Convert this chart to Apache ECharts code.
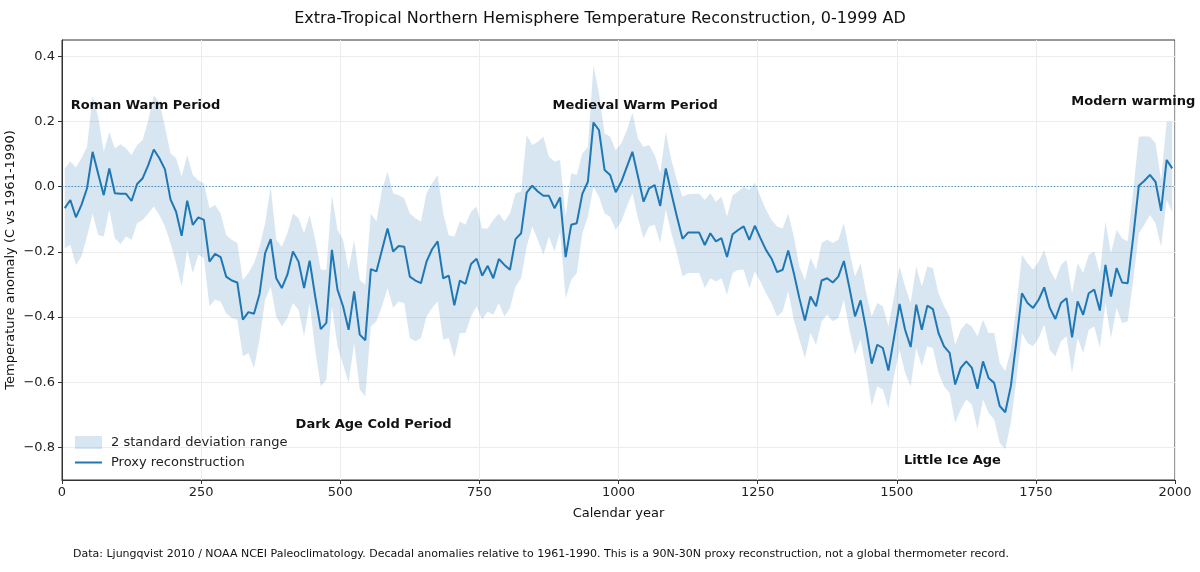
<!DOCTYPE html>
<html>
<head>
<meta charset="utf-8">
<title>Extra-Tropical NH Temperature Reconstruction</title>
<script src="https://cdn.jsdelivr.net/npm/echarts@6/dist/echarts.min.js"></script>
<style>
  html, body { margin: 0; padding: 0; background: #fff; }
  #chart { width: 1200px; height: 572px; }
</style>
</head>
<body>
<div id="chart"></div>
<script>
// decade midpoints, 5 .. 1995 AD
var years = [];
for (var y = 5; y < 2000; y += 10) years.push(y);

// proxy reconstruction (C vs 1961-1990)
var proxy = [
    -0.066, -0.041, -0.094, -0.056, -0.005, 0.107, 0.040, -0.026, 0.056, -0.020,
    -0.022, -0.022, -0.044, 0.008, 0.026, 0.066, 0.114, 0.087, 0.053, -0.039,
    -0.077, -0.151, -0.043, -0.117, -0.094, -0.102, -0.230, -0.206, -0.216, -0.276,
    -0.288, -0.294, -0.408, -0.385, -0.390, -0.329, -0.204, -0.161, -0.281, -0.311,
    -0.270, -0.199, -0.230, -0.311, -0.227, -0.337, -0.437, -0.418, -0.194, -0.316,
    -0.367, -0.439, -0.321, -0.454, -0.471, -0.253, -0.260, -0.194, -0.128, -0.199,
    -0.182, -0.184, -0.276, -0.288, -0.296, -0.230, -0.192, -0.168, -0.281, -0.273,
    -0.364, -0.288, -0.298, -0.237, -0.221, -0.273, -0.243, -0.281, -0.222, -0.240,
    -0.255, -0.161, -0.143, -0.018, 0.003, -0.015, -0.028, -0.028, -0.066, -0.033,
    -0.216, -0.117, -0.112, -0.022, 0.015, 0.197, 0.173, 0.051, 0.036, -0.017,
    0.015, 0.061, 0.107, 0.031, -0.046, -0.005, 0.005, -0.059, 0.056, -0.020,
    -0.092, -0.160, -0.141, -0.141, -0.141, -0.179, -0.143, -0.168, -0.158, -0.216,
    -0.146, -0.133, -0.122, -0.163, -0.120, -0.158, -0.194, -0.221, -0.262, -0.255,
    -0.196, -0.265, -0.342, -0.411, -0.337, -0.367, -0.288, -0.281, -0.294, -0.276,
    -0.228, -0.311, -0.398, -0.349, -0.439, -0.543, -0.485, -0.495, -0.564, -0.464,
    -0.360, -0.439, -0.492, -0.362, -0.439, -0.365, -0.376, -0.449, -0.490, -0.510,
    -0.607, -0.556, -0.536, -0.556, -0.620, -0.536, -0.587, -0.602, -0.673, -0.692,
    -0.612, -0.474, -0.327, -0.357, -0.372, -0.347, -0.309, -0.372, -0.406, -0.357,
    -0.342, -0.462, -0.352, -0.393, -0.327, -0.316, -0.380, -0.240, -0.337, -0.250,
    -0.294, -0.296, -0.153, 0.003, 0.018, 0.036, 0.015, -0.074, 0.082, 0.056
];

// upper edge of the 2 sd band
var upper = [
    0.056, 0.077, 0.059, 0.087, 0.122, 0.280, 0.214, 0.107, 0.168, 0.117,
    0.130, 0.117, 0.097, 0.128, 0.143, 0.204, 0.280, 0.260, 0.184, 0.102,
    0.087, 0.031, 0.097, 0.036, 0.020, 0.010, -0.066, -0.056, -0.082, -0.148,
    -0.163, -0.173, -0.286, -0.265, -0.235, -0.184, -0.112, 0.000, -0.163, -0.184,
    -0.143, -0.082, -0.097, -0.143, -0.087, -0.163, -0.255, -0.255, -0.026, -0.133,
    -0.163, -0.255, -0.163, -0.286, -0.301, -0.082, -0.107, -0.010, 0.046, -0.020,
    -0.026, -0.036, -0.082, -0.097, -0.107, -0.020, 0.010, 0.036, -0.082, -0.150,
    -0.153, -0.107, -0.117, -0.077, -0.061, -0.128, -0.128, -0.102, -0.082, -0.107,
    -0.082, -0.020, -0.015, 0.158, 0.128, 0.138, 0.153, 0.092, 0.077, 0.082,
    -0.092, 0.041, 0.036, 0.102, 0.122, 0.372, 0.286, 0.163, 0.153, 0.112,
    0.133, 0.173, 0.227, 0.148, 0.122, 0.128, 0.097, 0.041, 0.168, 0.082,
    0.020, -0.031, -0.023, -0.022, -0.022, -0.041, -0.020, -0.046, -0.031, -0.092,
    -0.026, -0.015, 0.000, -0.010, 0.012, -0.031, -0.071, -0.102, -0.122, -0.128,
    -0.082, -0.153, -0.245, -0.286, -0.219, -0.255, -0.173, -0.163, -0.173, -0.163,
    -0.112, -0.199, -0.276, -0.235, -0.327, -0.398, -0.357, -0.367, -0.429, -0.337,
    -0.245, -0.306, -0.357, -0.245, -0.306, -0.245, -0.250, -0.327, -0.367, -0.398,
    -0.485, -0.439, -0.418, -0.429, -0.459, -0.408, -0.449, -0.449, -0.540, -0.566,
    -0.500, -0.367, -0.209, -0.235, -0.255, -0.230, -0.194, -0.255, -0.286, -0.240,
    -0.224, -0.327, -0.235, -0.265, -0.209, -0.199, -0.265, -0.107, -0.204, -0.133,
    -0.158, -0.168, -0.010, 0.153, 0.155, 0.153, 0.133, 0.020, 0.199, 0.199
];

// lower edge of the 2 sd band
var lower = [
    -0.189, -0.179, -0.240, -0.214, -0.153, -0.082, -0.148, -0.153, -0.071, -0.158,
    -0.176, -0.153, -0.163, -0.112, -0.102, -0.082, -0.061, -0.087, -0.122, -0.173,
    -0.235, -0.306, -0.194, -0.265, -0.209, -0.219, -0.367, -0.347, -0.352, -0.388,
    -0.403, -0.408, -0.520, -0.510, -0.556, -0.469, -0.347, -0.306, -0.398, -0.429,
    -0.403, -0.357, -0.378, -0.459, -0.357, -0.500, -0.612, -0.592, -0.367, -0.490,
    -0.546, -0.602, -0.480, -0.622, -0.643, -0.429, -0.413, -0.367, -0.311, -0.372,
    -0.352, -0.357, -0.464, -0.474, -0.464, -0.398, -0.372, -0.352, -0.469, -0.464,
    -0.526, -0.449, -0.449, -0.398, -0.367, -0.408, -0.383, -0.393, -0.357, -0.398,
    -0.372, -0.306, -0.281, -0.184, -0.122, -0.163, -0.209, -0.153, -0.199, -0.138,
    -0.342, -0.286, -0.265, -0.143, -0.092, 0.000, -0.031, -0.082, -0.092, -0.133,
    -0.107, -0.061, -0.020, -0.097, -0.158, -0.122, -0.117, -0.173, -0.071, -0.143,
    -0.204, -0.276, -0.265, -0.265, -0.265, -0.311, -0.281, -0.291, -0.281, -0.332,
    -0.265, -0.255, -0.255, -0.311, -0.260, -0.291, -0.327, -0.357, -0.398, -0.383,
    -0.321, -0.408, -0.469, -0.526, -0.449, -0.485, -0.413, -0.393, -0.413, -0.403,
    -0.347, -0.439, -0.515, -0.469, -0.561, -0.673, -0.612, -0.622, -0.679, -0.582,
    -0.500, -0.571, -0.612, -0.495, -0.551, -0.490, -0.495, -0.571, -0.612, -0.633,
    -0.724, -0.684, -0.653, -0.668, -0.745, -0.653, -0.694, -0.714, -0.786, -0.806,
    -0.724, -0.592, -0.449, -0.480, -0.490, -0.464, -0.423, -0.500, -0.520, -0.474,
    -0.459, -0.571, -0.464, -0.510, -0.439, -0.429, -0.495, -0.357, -0.464, -0.372,
    -0.418, -0.413, -0.286, -0.143, -0.117, -0.087, -0.112, -0.184, -0.041, -0.077
];

var yTicks = [-0.8, -0.6, -0.4, -0.2, 0.0, 0.2, 0.4];

// period labels, at data coordinates
var periodNames = ['Roman Warm Period', 'Medieval Warm Period', 'Modern warming', 'Dark Age Cold Period', 'Little Ice Age'];
var periodYears = [150, 1030, 1925, 560, 1600];
var periodValues = [0.25, 0.25, 0.26, -0.73, -0.84];

var BLUE = '#1f77b4';
var BAND = 'rgba(31,119,180,0.18)';
var FONT = 'DejaVu Sans';

function pairs(vals) {
    var out = [];
    for (var i = 0; i < years.length; i++) out.push([years[i], vals[i]]);
    return out;
}

// band as one polygon: upper edge left->right, lower edge back
function renderBand(params, api) {
    if (params.dataIndex !== 0) return;
    var pts = [];
    for (var i = 0; i < years.length; i++) pts.push(api.coord([years[i], upper[i]]));
    for (var k = years.length - 1; k >= 0; k--) pts.push(api.coord([years[k], lower[k]]));
    var cs = params.coordSys;
    return {
        type: 'polygon',
        shape: { points: pts },
        style: { fill: BAND, stroke: null },
        clipPath: { type: 'rect', shape: { x: cs.x, y: cs.y, width: cs.width, height: cs.height } },
        silent: true
    };
}

var marks = [];
for (var j = 0; j < periodNames.length; j++) {
    marks.push({ coord: [periodYears[j], periodValues[j]], value: periodNames[j] });
}

function fmtY(v) {
    return v.toFixed(1).replace('-', '\u2212');
}

var chart = echarts.init(document.getElementById('chart'), null, { renderer: 'canvas' });
chart.setOption({
    animation: false,
    backgroundColor: '#fff',
    textStyle: { fontFamily: FONT },
    title: {
        text: 'Extra-Tropical Northern Hemisphere Temperature Reconstruction, 0-1999 AD',
        left: 'center',
        top: 6,
        textStyle: { fontFamily: FONT, fontSize: 16, fontWeight: 'normal', color: '#111' }
    },
    legend: {
        orient: 'vertical',
        left: 74,
        top: 436,
        padding: 0,
        itemWidth: 27,
        itemHeight: 13,
        itemGap: 7,
        textStyle: { fontFamily: FONT, fontSize: 13, color: '#222', padding: [0, 0, 0, 4] },
        data: [
            { name: '2 standard deviation range', icon: 'rect', itemStyle: { color: BAND } },
            { name: 'Proxy reconstruction', itemStyle: { opacity: 0 } }
        ]
    },
    graphic: [{
        type: 'text',
        left: 73,
        top: 549,
        style: {
            text: 'Data: Ljungqvist 2010 / NOAA NCEI Paleoclimatology. Decadal anomalies relative to 1961-1990. This is a 90N-30N proxy reconstruction, not a global thermometer record.',
            font: '11px "DejaVu Sans"',
            fill: '#111'
        }
    }],
    grid: {
        left: 62, right: 25, top: 40, bottom: 92,
        containLabel: false,
        outerBoundsMode: 'none',
        show: true, borderColor: '#333', borderWidth: 1
    },
    xAxis: {
        type: 'value',
        min: 0, max: 2000, interval: 250,
        name: 'Calendar year',
        nameLocation: 'middle',
        nameGap: 27,
        nameTextStyle: { fontFamily: FONT, fontSize: 13, color: '#111' },
        axisLine: { show: true, onZero: false, lineStyle: { color: '#333' } },
        axisTick: { show: true, length: 4, lineStyle: { color: '#333' } },
        axisLabel: { fontFamily: FONT, fontSize: 13, color: '#222', margin: 6, formatter: function (v) { return String(v); } },
        splitLine: { show: true, lineStyle: { color: '#ececec', width: 1 } }
    },
    yAxis: {
        type: 'value',
        min: -0.9, max: 0.45,
        name: 'Temperature anomaly (C vs 1961-1990)',
        nameLocation: 'middle',
        nameGap: 45,
        nameMoveOverlap: false,
        nameTextStyle: { fontFamily: FONT, fontSize: 13, color: '#111' },
        axisLine: { show: true, onZero: false, lineStyle: { color: '#333' } },
        axisTick: { show: true, length: 4, customValues: yTicks, lineStyle: { color: '#333' } },
        axisLabel: { fontFamily: FONT, fontSize: 13, color: '#222', margin: 7, customValues: yTicks, formatter: fmtY },
        splitLine: { show: true, lineStyle: { color: '#ececec', width: 1 } }
    },
    series: [
        {
            name: '2 standard deviation range',
            type: 'custom',
            renderItem: renderBand,
            data: [[years[0], upper[0]]],
            itemStyle: { color: BAND },
            silent: true,
            z: 1
        },
        {
            name: 'Proxy reconstruction',
            type: 'line',
            data: pairs(proxy),
            symbol: 'none',
            lineStyle: { color: BLUE, width: 2 },
            itemStyle: { color: BLUE },
            z: 3,
            markLine: {
                silent: true,
                symbol: 'none',
                label: { show: false },
                lineStyle: { color: BLUE, type: [1.2, 2], width: 1.2, opacity: 0.85 },
                data: [{ yAxis: 0 }]
            },
            markPoint: {
                symbol: 'circle',
                symbolSize: 0,
                silent: true,
                label: {
                    show: true,
                    position: 'inside',
                    formatter: '{c}',
                    fontFamily: FONT,
                    fontSize: 13,
                    fontWeight: 'bold',
                    color: '#111'
                },
                data: marks
            }
        }
    ]
});
</script>
</body>
</html>
